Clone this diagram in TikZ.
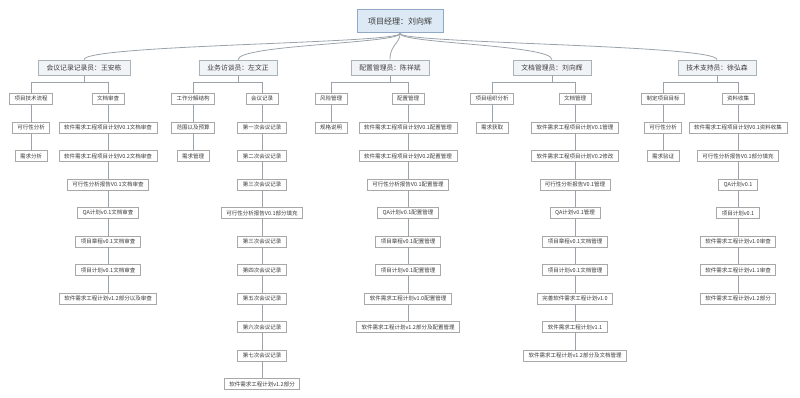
\documentclass[tikz,border=0pt]{standalone}
\usepackage{fontspec}
\setmainfont{Noto Sans CJK SC}
\usepackage{xcolor}
\usepackage{tikz}
\definecolor{linkgray}{HTML}{9AA3AB}
\definecolor{rootblue}{HTML}{DDE9F4}
\definecolor{rootedge}{HTML}{8FA9C6}
\definecolor{rolefill}{HTML}{F1F4F7}
\definecolor{roleedge}{HTML}{A9B1B9}
\definecolor{boxedge}{HTML}{A8A8A8}
\definecolor{textgray}{HTML}{3A3A3A}
\tikzset{
  rootbox/.style={draw=rootedge,fill=rootblue,line width=1pt,text=textgray,
    font=\fontsize{8}{9}\selectfont,inner xsep=11pt,minimum height=23pt},
  rolebox/.style={draw=roleedge,fill=rolefill,line width=.7pt,text=textgray,
    font=\fontsize{6.8}{8}\selectfont,inner xsep=8.5pt,minimum height=15pt},
  taskbox/.style={draw=boxedge,fill=white,line width=.6pt,text=textgray,
    font=\fontsize{5.5}{6}\selectfont,inner xsep=5pt,inner ysep=0pt,minimum height=11pt},
  link/.style={linkgray,line width=.8pt}
}
\def\rowA{127.5}
\def\rowH{28.5}
% a column of tasks hanging below node #1-0
\newcommand{\taskchain}[3]{%
  \foreach \t [count=\i, remember=\i as \j (initially 0)] in {#3}{
    \node[taskbox] (#1-\i) at (#2,{\rowA+\rowH*(\i-1)}) {\t};
    \draw[link] (#1-\j) -- (#1-\i);
  }}

\begin{document}
\begin{tikzpicture}[x=1pt,y=-1pt]
  \useasboundingbox (0,0) rectangle (800,398);
  \node[rootbox] (root) at (400,21.5) {项目经理：刘向辉};

  \node[rolebox] (r1) at (84,67.5) {会议记录记录员：王安栋};
  \node[rolebox] (r2) at (238,67.5) {业务访谈员：左文正};
  \node[rolebox] (r3) at (390,67.5) {配置管理员：陈祥斌};
  \node[rolebox] (r4) at (552,67.5) {文档管理员：刘向辉};
  \node[rolebox] (r5) at (717,67.5) {技术支持员：徐弘森};
  \foreach \r in {r1,r2,r3,r4,r5}
    \draw[link] (root.south) .. controls +(0,10) and +(0,-15) .. (\r.north);

  \node[taskbox] (L1-0) at (31,98.5) {项目技术流程};
  \node[taskbox] (R1-0) at (108,98.5) {文档审查};
  \node[taskbox] (L2-0) at (193,98.5) {工作分解结构};
  \node[taskbox] (R2-0) at (262,98.5) {会议记录};
  \node[taskbox] (L3-0) at (331,98.5) {风险管理};
  \node[taskbox] (R3-0) at (408,98.5) {配置管理};
  \node[taskbox] (L4-0) at (492,98.5) {项目组织分析};
  \node[taskbox] (R4-0) at (575,98.5) {文档管理};
  \node[taskbox] (L5-0) at (663,98.5) {制定项目目标};
  \node[taskbox] (R5-0) at (738,98.5) {资料收集};
  \foreach \n in {1,...,5}{
    \draw[link] (r\n.south) -- ++(0,7) coordinate (r\n-b) -| (L\n-0.north);
    \draw[link] (r\n-b) -| (R\n-0.north);
  }

  \taskchain{L1}{31}{可行性分析,需求分析}
  \taskchain{R1}{108}{软件需求工程项目计划V0.1文档审查,软件需求工程项目计划V0.2文档审查,
    可行性分析报告V0.1文档审查,QA计划v0.1文档审查,项目章程v0.1文档审查,
    项目计划v0.1文档审查,软件需求工程计划v1.2部分以及审查}
  \taskchain{L2}{193}{范围以及预算,需求管理}
  \taskchain{R2}{262}{第一次会议记录,第二次会议记录,第三次会议记录,可行性分析报告V0.1部分填充,
    第三次会议记录,第四次会议记录,第五次会议记录,第六次会议记录,第七次会议记录,
    软件需求工程计划v1.2部分}
  \taskchain{L3}{331}{规格说明}
  \taskchain{R3}{408}{软件需求工程项目计划V0.1配置管理,软件需求工程项目计划V0.2配置管理,
    可行性分析报告V0.1配置管理,QA计划v0.1配置管理,项目章程v0.1配置管理,
    项目计划v0.1配置管理,软件需求工程计划v1.0配置管理,软件需求工程计划v1.2部分及配置管理}
  \taskchain{L4}{492}{需求获取}
  \taskchain{R4}{575}{软件需求工程项目计划V0.1管理,软件需求工程项目计划V0.2修改,
    可行性分析报告V0.1管理,QA计划v0.1管理,项目章程v0.1文档管理,项目计划v0.1文档管理,
    完善软件需求工程计划v1.0,软件需求工程计划v1.1,软件需求工程计划v1.2部分及文档管理}
  \taskchain{L5}{663}{可行性分析,需求验证}
  \taskchain{R5}{738}{软件需求工程项目计划V0.1资料收集,可行性分析报告V0.1部分填充,
    QA计划v0.1,项目计划v0.1,软件需求工程计划v1.0审查,软件需求工程计划v1.1审查,
    软件需求工程计划v1.2部分}
\end{tikzpicture}
\end{document}
